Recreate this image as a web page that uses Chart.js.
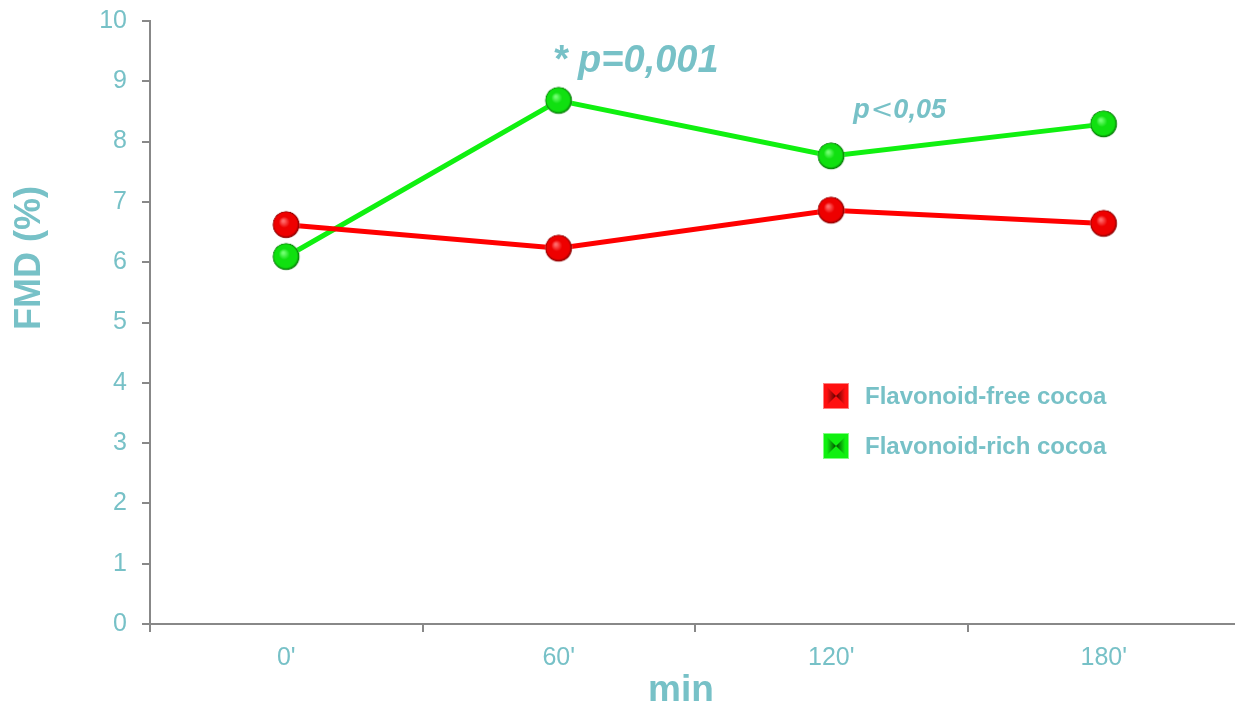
<!DOCTYPE html>
<html>
<head>
<meta charset="utf-8">
<script src="https://cdn.jsdelivr.net/npm/chart.js@4.4.0/dist/chart.umd.min.js"></script>
<style>
  html, body { margin: 0; padding: 0; background: #fff; overflow: hidden; }
  #wrap { width: 1240px; height: 707px; }
</style>
</head>
<body>
<div id="wrap"><canvas id="fmd-grafica"></canvas></div>
<script>
// datos
const categorias = ["0'", "60'", "120'", "180'"];
const flavonoidFree = [6.62, 6.23, 6.86, 6.64];
const flavonoidRich = [6.09, 8.68, 7.76, 8.29];
const etiquetas = ['Flavonoid-free cocoa', 'Flavonoid-rich cocoa'];
const yTicks = [0, 1, 2, 3, 4, 5, 6, 7, 8, 9, 10];

const colorTexto = '#77c1c7';
const colorEje = '#888888';
const fuente = 'Arial, "Liberation Sans", sans-serif';

// esfera con brillo para los puntos
function esfera(claro, base, oscuro) {
    const c = document.createElement('canvas');
    c.width = 30; c.height = 30;
    const g = c.getContext('2d');
    const grad = g.createRadialGradient(12, 11, 1, 15, 15, 14);
    grad.addColorStop(0, claro);
    grad.addColorStop(0.35, base);
    grad.addColorStop(0.8, base);
    grad.addColorStop(0.93, oscuro);
    grad.addColorStop(1, 'rgba(255,255,255,0)');
    g.fillStyle = grad;
    g.beginPath();
    g.arc(15, 15, 14, 0, Math.PI * 2);
    g.fill();
    return c;
}
const puntoRojo = esfera('#ff6a6a', '#ee0000', '#8a0000');
const puntoVerde = esfera('#70ff70', '#10e010', '#087a08');

// cuadro biselado de la leyenda
function cuadro(ctx, x, y, s, claro, base, oscuro) {
    ctx.fillStyle = base;
    ctx.fillRect(x, y, s, s);
    const cx = x + s / 2, cy = y + s / 2;
    [x, x + s].forEach(ex => {
        const gr = ctx.createLinearGradient(ex, cy, cx, cy);
        gr.addColorStop(0, base);
        gr.addColorStop(0.3, base);
        gr.addColorStop(1, oscuro);
        ctx.fillStyle = gr;
        ctx.beginPath();
        ctx.moveTo(ex, y); ctx.lineTo(cx, cy); ctx.lineTo(ex, y + s); ctx.closePath();
        ctx.fill();
    });
    ctx.strokeStyle = claro;
    ctx.lineWidth = 1;
    ctx.strokeRect(x + 0.5, y + 0.5, s - 1, s - 1);
}

const extras = {
    id: 'extras',
    afterDraw(chart) {
        const ctx = chart.ctx;
        const xs = chart.scales.x, ys = chart.scales.y;
        const area = chart.chartArea;
        ctx.save();
        ctx.fillStyle = colorTexto;

        // titulos de ejes
        ctx.font = 'bold 36px ' + fuente;
        ctx.textAlign = 'center';
        ctx.textBaseline = 'middle';
        ctx.save();
        ctx.translate(30, 258);
        ctx.rotate(-Math.PI / 2);
        ctx.fillText('FMD (%)', 0, 0);
        ctx.restore();
        ctx.textBaseline = 'alphabetic';
        ctx.font = 'bold 37px ' + fuente;
        ctx.fillText('min', 681, 701);

        // anotaciones
        ctx.textAlign = 'left';
        ctx.font = 'italic bold 38px ' + fuente;
        ctx.fillText('* p=0,001', xs.getPixelForValue(1) - 6, ys.getPixelForValue(9.15));

        let px = xs.getPixelForValue(2) + 22;
        const py = ys.getPixelForValue(8.39);
        ctx.font = 'italic bold 27px ' + fuente;
        ctx.fillText('p', px, py);
        px += ctx.measureText('p').width + 1;
        ctx.font = '27px "DejaVu Sans", sans-serif';
        ctx.fillText('<', px, py);
        px += ctx.measureText('<').width;
        ctx.font = 'italic bold 27px ' + fuente;
        ctx.fillText('0,05', px, py);

        // leyenda
        const lx = area.left + 673, ly = [383, 433];
        const tonos = [['#ff8080', '#ff1010', '#5a0000'], ['#80ff80', '#10f010', '#004a00']];
        ctx.font = 'bold 24px ' + fuente;
        ctx.textBaseline = 'middle';
        chart.data.datasets.forEach((ds, i) => {
            cuadro(ctx, lx, ly[i], 26, ...tonos[i]);
            ctx.fillStyle = colorTexto;
            ctx.fillText(ds.label, lx + 42, ly[i] + 14);
        });
        ctx.restore();
    }
};

new Chart(document.getElementById('fmd-grafica'), {
    type: 'line',
    data: {
        labels: categorias,
        datasets: [{
            label: etiquetas[0],
            data: flavonoidFree,
            borderColor: '#ff0000',
            borderWidth: 5,
            pointStyle: puntoRojo,
            pointRadius: 14
        }, {
            label: etiquetas[1],
            data: flavonoidRich,
            borderColor: '#10f010',
            borderWidth: 5,
            pointStyle: puntoVerde,
            pointRadius: 14
        }]
    },
    options: {
        responsive: true,
        maintainAspectRatio: false,
        animation: false,
        layout: { autoPadding: false, padding: { top: 21, left: 0, right: 0, bottom: 0 } },
        scales: {
            x: {
                type: 'category',
                offset: true,
                grid: { offset: true, drawOnChartArea: false, drawTicks: true, tickLength: 8, color: colorEje, lineWidth: 2 },
                border: { color: colorEje, width: 2 },
                ticks: { color: colorTexto, font: { size: 25, family: fuente }, padding: 11 },
                afterFit(scale) {
                    scale.height = 83;
                    scale.paddingLeft = 0; scale.paddingRight = 0;
                }
            },
            y: {
                min: 0,
                max: 10,
                afterBuildTicks(scale) { scale.ticks = yTicks.map(v => ({ value: v })); },
                grid: { drawOnChartArea: false, drawTicks: true, tickLength: 8, color: colorEje, lineWidth: 2 },
                border: { color: colorEje, width: 2 },
                ticks: { color: colorTexto, font: { size: 25, family: fuente }, padding: 15 },
                afterFit(scale) {
                    scale.width = 150;
                    scale.paddingTop = 0; scale.paddingBottom = 0;
                }
            }
        },
        plugins: {
            legend: { display: false },
            tooltip: { enabled: false }
        }
    },
    plugins: [extras]
});
</script>
</body>
</html>
